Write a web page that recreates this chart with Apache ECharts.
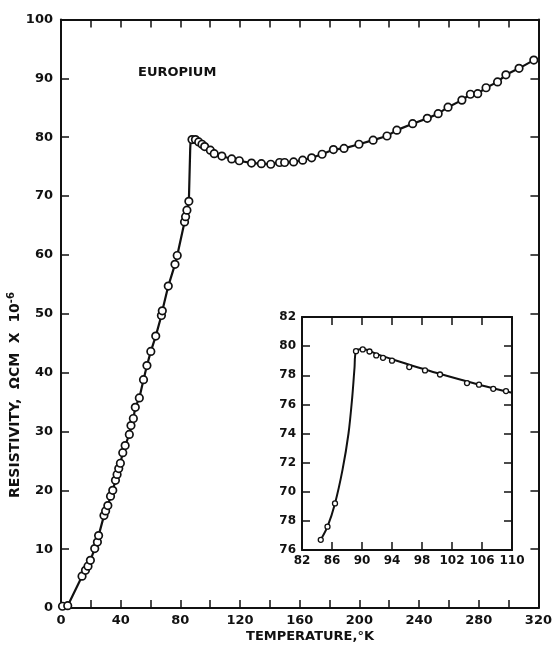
<!DOCTYPE html>
<html>
<head>
<meta charset="utf-8">
<script src="https://cdn.jsdelivr.net/npm/echarts@6/dist/echarts.min.js"></script>
<style>
html, body { margin: 0; padding: 0; background: #fff; }
#chart { width: 555px; height: 646px; }
</style>
</head>
<body>
<div id="chart"></div>
<script>
// measured points, main plot: [temperature K, resistivity]
var mainPoints = [
    [1, 0.3], [4.5, 0.4], [14.1, 5.4], [16.4, 6.4], [18.1, 7.1], [19.7, 8.1],
    [22.6, 10.1], [24.4, 11.2], [25.2, 12.3], [28.8, 15.7], [29.9, 16.5], [31.4, 17.4],
    [33.2, 19.0], [34.7, 20.0], [36.5, 21.7], [37.6, 22.7], [38.7, 23.7], [39.8, 24.6],
    [41.4, 26.4], [43.0, 27.6], [45.8, 29.5], [46.9, 31.0], [48.5, 32.2], [49.8, 34.1],
    [52.5, 35.7], [55.3, 38.8], [57.6, 41.2], [60.2, 43.6], [63.5, 46.2], [67.3, 49.7],
    [67.9, 50.5], [71.9, 54.7], [76.4, 58.4], [77.9, 59.9], [82.8, 65.6], [83.5, 66.5],
    [84.4, 67.6], [85.7, 69.1],
    [87.8, 79.6], [90.1, 79.6], [92.3, 79.2], [94.5, 78.8], [96.3, 78.4], [100.1, 77.8],
    [102.7, 77.2], [107.8, 76.8], [114.4, 76.3], [119.5, 76.0], [127.7, 75.6], [134.3, 75.5],
    [140.6, 75.4], [146.5, 75.7], [149.9, 75.7], [155.9, 75.8], [162, 76.1], [168, 76.5],
    [175, 77.1], [182.6, 77.9], [189.7, 78.1], [199.7, 78.8], [209.2, 79.5], [218.5, 80.2],
    [225.1, 81.2], [235.7, 82.3], [245.5, 83.2], [252.8, 84.0], [259.4, 85.1], [268.7, 86.3],
    [274.4, 87.3], [279.3, 87.4], [284.9, 88.4], [292.6, 89.4], [298.2, 90.6], [307.0, 91.7],
    [316.9, 93.1]
];
// steep rise at the transition, line only
var mainJump = [[86.6, 78.0], [86.9, 79.6]];

// inset (enlarged transition region)
var insetPoints = [
    [84.5, 66.7], [85.4, 67.6], [86.4, 69.2],
    [89.2, 79.65], [90.1, 79.77], [91.0, 79.63], [91.9, 79.36], [92.8, 79.2], [94.0, 79.0],
    [96.3, 78.56], [98.4, 78.33], [100.4, 78.05], [104.0, 77.46], [105.6, 77.35],
    [107.5, 77.07], [109.2, 76.91]
];
var insetCurve = [
    [84.5, 66.7], [85.4, 67.6], [86.4, 69.2], [87.4, 71.5], [88.2, 74.0], [88.7, 76.5],
    [89.0, 78.5], [89.2, 79.65], [90.1, 79.8], [92.0, 79.45], [94.0, 79.1], [100.0, 78.15],
    [106.0, 77.3], [110.0, 76.8]
];
// inset y tick labels as printed (66 .. 82)
var insetYLabels = ['76', '78', '70', '72', '74', '76', '78', '80', '82'];

var FONT = 'DejaVu Sans';
var INK = '#111';

var mainLine = mainPoints.concat(mainJump).sort(function (a, b) { return a[0] - b[0]; });

function frameAxis(extra) {
    var base = {
        axisLine: { show: true, onZero: false, lineStyle: { color: INK, width: 2 } },
        axisTick: { show: true, inside: true, length: 8, lineStyle: { color: INK, width: 1.5 } },
        splitLine: { show: false },
        axisLabel: { show: false }
    };
    return Object.assign(base, extra);
}

var labelStyle = { show: true, color: INK, fontFamily: FONT, fontWeight: 'bold', fontSize: 13 };
var insetLabel = { show: true, color: INK, fontFamily: FONT, fontWeight: 'bold', fontSize: 12 };

var chart = echarts.init(document.getElementById('chart'), null, { renderer: 'canvas' });

var option = {
    backgroundColor: '#fff',
    animation: false,
    grid: [
        { left: 61, top: 19.5, right: 12, bottom: 38 },
        { left: 302, top: 317, right: 43, bottom: 96 }
    ],
    xAxis: [
        frameAxis({ type: 'value', gridIndex: 0, position: 'bottom', min: 0, max: 320, interval: 20,
            axisLabel: Object.assign({}, labelStyle, { margin: 6,
                formatter: function (v) { return v % 40 === 0 ? String(v) : ''; } }) }),
        frameAxis({ type: 'value', gridIndex: 0, position: 'top', min: 0, max: 320, interval: 20 }),
        frameAxis({ type: 'value', gridIndex: 1, position: 'bottom', min: 82, max: 110, interval: 4,
            axisLabel: Object.assign({}, insetLabel, { margin: 5 }) }),
        frameAxis({ type: 'value', gridIndex: 1, position: 'top', min: 82, max: 110, interval: 4 })
    ],
    yAxis: [
        frameAxis({ type: 'value', gridIndex: 0, position: 'left', min: 0, max: 100, interval: 10,
            axisLabel: Object.assign({}, labelStyle, { margin: 8 }) }),
        frameAxis({ type: 'value', gridIndex: 0, position: 'right', min: 0, max: 100, interval: 10 }),
        frameAxis({ type: 'value', gridIndex: 1, position: 'left', min: 66, max: 82, interval: 2,
            axisLabel: Object.assign({}, insetLabel, { margin: 6,
                formatter: function (v) { return insetYLabels[Math.round((v - 66) / 2)]; } }) }),
        frameAxis({ type: 'value', gridIndex: 1, position: 'right', min: 66, max: 82, interval: 2 })
    ],
    series: [
        { type: 'line', xAxisIndex: 0, yAxisIndex: 0, data: mainLine, showSymbol: false,
          lineStyle: { color: INK, width: 2.2 }, z: 2 },
        { type: 'scatter', xAxisIndex: 0, yAxisIndex: 0, data: mainPoints, symbol: 'circle',
          symbolSize: 7.5, itemStyle: { color: '#fff', opacity: 1, borderColor: INK, borderWidth: 1.7 }, z: 3 },
        { type: 'line', xAxisIndex: 2, yAxisIndex: 2, data: insetCurve, showSymbol: false,
          smooth: 0.3, lineStyle: { color: INK, width: 2 }, z: 2 },
        { type: 'scatter', xAxisIndex: 2, yAxisIndex: 2, data: insetPoints, symbol: 'circle',
          symbolSize: 5, itemStyle: { color: '#fff', opacity: 1, borderColor: INK, borderWidth: 1.3 }, z: 3 }
    ],
    graphic: [
        { type: 'text', left: 138, top: 66,
          style: { text: 'EUROPIUM', fill: INK, font: 'bold 13px "DejaVu Sans"' } },
        { type: 'text', x: 310, y: 637,
          style: { text: 'TEMPERATURE,°K', fill: INK, font: 'bold 13px "DejaVu Sans"',
                   align: 'center', verticalAlign: 'middle' } },
        { type: 'text', x: 15, y: 395, rotation: Math.PI / 2,
          style: { text: 'RESISTIVITY,  ΩCM  X  10{s|-6}', fill: INK,
                   font: 'bold 14px "DejaVu Sans"', align: 'center', verticalAlign: 'middle',
                   rich: { s: { fontSize: 10, fontWeight: 'bold', fontFamily: FONT, verticalAlign: 'top', padding: [0, 0, 8, 0] } } } }
    ]
};

chart.setOption(option);
</script>
</body>
</html>
